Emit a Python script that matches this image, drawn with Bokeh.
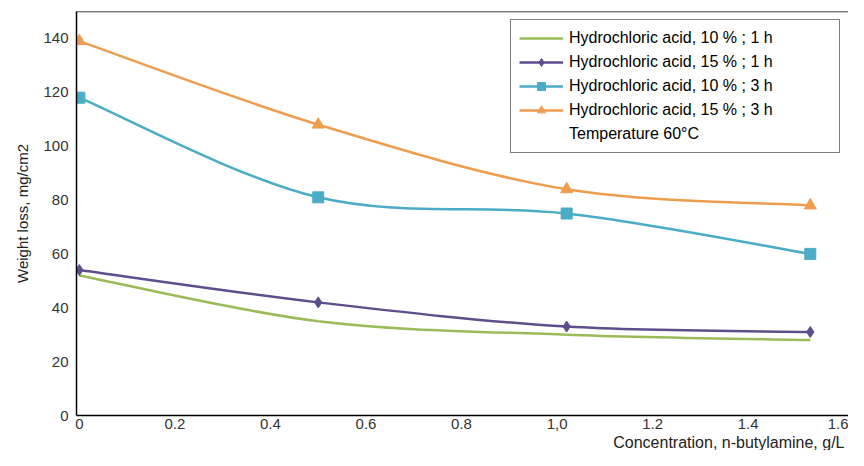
from bokeh.plotting import figure
from bokeh.models import (ColumnDataSource, FixedTicker, Legend, LegendItem, Span, Title)
from bokeh.embed import file_html
from bokeh.resources import INLINE

# ---------------- data ----------------
conc = [0.0, 0.5, 1.02, 1.53]
hcl10_1h = [52, 35, 30, 28]
hcl15_1h = [54, 42, 33, 31]
hcl10_3h = [118, 81, 75, 60]
hcl15_3h = [139, 108, 84, 78]

series_labels = [
    "Hydrochloric acid, 10 % ; 1 h",
    "Hydrochloric acid, 15 % ; 1 h",
    "Hydrochloric acid, 10 % ; 3 h",
    "Hydrochloric acid, 15 % ; 3 h",
]
note_label = "Temperature 60°C"

x_ticks = [0, 0.2, 0.4, 0.6, 0.8, 1.0, 1.2, 1.4, 1.6]
x_tick_labels = ["0", "0.2", "0.4", "0.6", "0.8", "1,0", "1.2", "1.4", "1.6"]
y_ticks = [0, 20, 40, 60, 80, 100, 120, 140]

x_title = "Concentration, n-butylamine, g/L"
y_title = "Weight loss, mg/cm2"

# ---------------- styling ----------------
FONT = "Liberation Sans"
colors = ["#9BBB59", "#5E4E8C", "#4BACC6", "#EE9D4E"]
markers = [None, "diamond", "square", "triangle"]
marker_sizes = [0, 11, 11, 12]


def smooth_source(xs, ys):
    """Cubic Bezier segments through the data points (Excel-like smoothing)."""
    n = len(xs)
    d = dict(x0=[], y0=[], x1=[], y1=[], cx0=[], cy0=[], cx1=[], cy1=[])
    for i in range(n - 1):
        p0 = i - 1 if i > 0 else i
        p3 = i + 2 if i + 2 < n else i + 1
        d["x0"].append(xs[i]); d["y0"].append(ys[i])
        d["x1"].append(xs[i + 1]); d["y1"].append(ys[i + 1])
        d["cx0"].append(xs[i] + (xs[i + 1] - xs[p0]) / 6.0)
        d["cy0"].append(ys[i] + (ys[i + 1] - ys[p0]) / 6.0)
        d["cx1"].append(xs[i + 1] - (xs[p3] - xs[i]) / 6.0)
        d["cy1"].append(ys[i + 1] - (ys[p3] - ys[i]) / 6.0)
    return ColumnDataSource(d)


p = figure(width=848, height=450, output_backend="svg", toolbar_location=None,
           x_range=(-0.006, 1.61), y_range=(0, 150),
           min_border_left=76, min_border_right=0, min_border_top=11,
           min_border_bottom=34)
p.background_fill_color = "white"
p.border_fill_color = "white"
p.outline_line_color = None
p.xgrid.visible = False
p.ygrid.visible = False

items = []
all_series = [hcl10_1h, hcl15_1h, hcl10_3h, hcl15_3h]
for ys, col, mk, ms, lab in zip(all_series, colors, markers, marker_sizes, series_labels):
    bz = p.bezier(x0="x0", y0="y0", x1="x1", y1="y1", cx0="cx0", cy0="cy0",
                  cx1="cx1", cy1="cy1", source=smooth_source(conc, ys),
                  line_color=col, line_width=2.5)
    rends = [bz]
    if mk is not None:
        sc = p.scatter(x=conc, y=ys, marker=mk, size=ms, fill_color=col,
                       line_color=col)
        rends.append(sc)
    items.append(LegendItem(label=lab, renderers=rends))

dummy = p.line(x=[], y=[], line_alpha=0)
items.append(LegendItem(label=note_label, renderers=[dummy]))

legend = Legend(items=items, location="top_right", margin=8,
                border_line_color="black", border_line_width=1.5,
                background_fill_color="white", background_fill_alpha=1,
                label_text_font=FONT, label_text_font_size="16px",
                label_text_color="black", glyph_width=44, glyph_height=20,
                label_height=20, spacing=4, padding=8, label_standoff=6,
                label_width=262)
p.add_layout(legend)

# top border line only
p.add_layout(Span(location=150, dimension="width", line_color="black",
                  line_width=1.5))

for ax in (p.xaxis[0], p.yaxis[0]):
    ax.axis_line_color = "black"
    ax.axis_line_width = 1.5
    ax.major_tick_out = 0
    ax.major_tick_in = 0
    ax.minor_tick_out = 0
    ax.minor_tick_in = 0
    ax.major_label_text_font = FONT
    ax.major_label_text_font_size = "15px"
    ax.major_label_text_color = "#333333"
    ax.axis_label_text_font = FONT
    ax.axis_label_text_font_style = "normal"
    ax.axis_label_text_color = "#222222"

p.xaxis.ticker = FixedTicker(ticks=x_ticks)
p.xaxis.major_label_overrides = dict(zip(x_ticks, x_tick_labels))
p.xaxis.major_label_standoff = 3

# x-axis title, right-aligned under the axis end (as in the reference)
p.add_layout(Title(text=x_title, align="right", offset=4, standoff=0,
                   text_font=FONT, text_font_size="16px",
                   text_font_style="normal", text_color="#222222"), "below")

p.yaxis.ticker = FixedTicker(ticks=y_ticks)
p.yaxis.major_label_standoff = 8
p.yaxis.axis_label = y_title
p.yaxis.axis_label_text_font_size = "15px"
p.yaxis.axis_label_standoff = 9

open("out.html", "w").write(file_html(p, INLINE))
